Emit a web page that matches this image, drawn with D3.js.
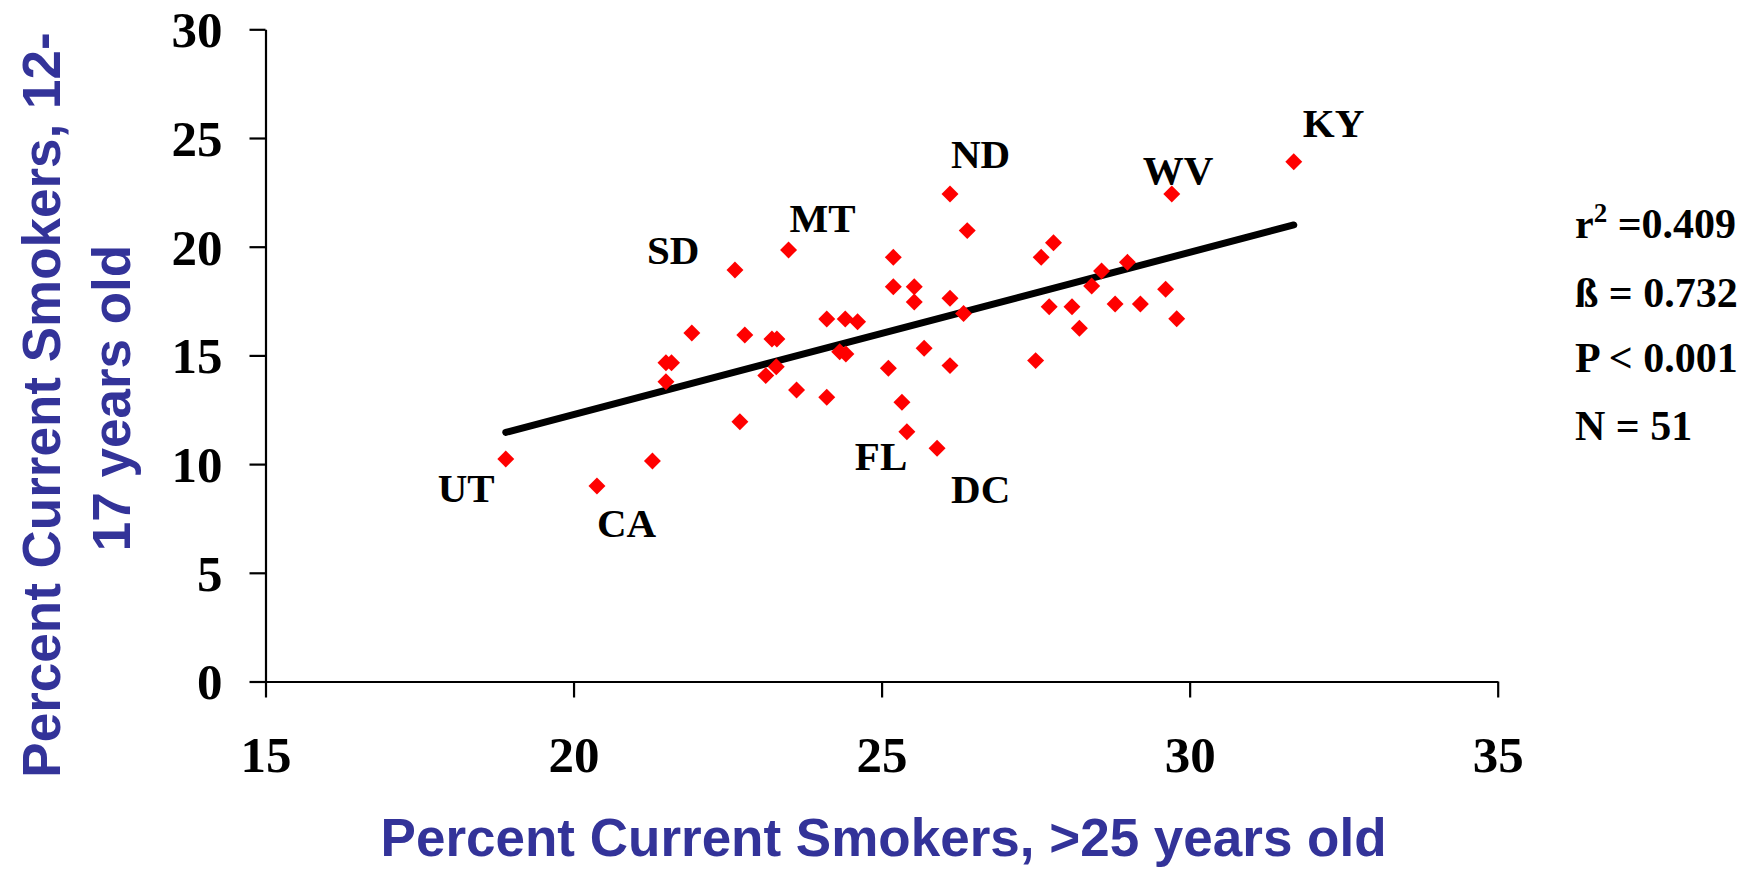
<!DOCTYPE html>
<html>
<head>
<meta charset="utf-8">
<script src="https://cdn.jsdelivr.net/npm/d3@7"></script>
<style>
  html, body { margin: 0; padding: 0; background: #ffffff; }
  svg { display: block; }
</style>
</head>
<body>
<svg id="chart" width="1758" height="869"></svg>
<script>
// ---- Data ----
// Percent current smokers, >25 years old
const adultPct = [18.90, 20.38, 21.28, 21.50, 21.50, 21.59, 21.92, 22.62, 22.78, 23.22,
                  23.30, 23.29, 23.12, 22.70, 23.62, 24.11, 23.49, 24.11, 24.41, 24.61,
                  24.32, 24.42, 25.19, 25.19, 25.53, 25.53, 25.11, 25.69, 25.33, 25.41,
                  25.90, 26.11, 26.39, 26.11, 26.33, 26.11, 27.50, 27.59, 27.79, 27.72,
                  28.09, 28.21, 28.41, 28.57, 28.79, 28.99, 29.20, 29.61, 29.79, 29.71,
                  31.69];
// Percent current smokers, 12-17 years old
const youthPct = [10.23, 8.99, 10.14, 13.79, 14.66, 14.66, 16.03, 18.93, 15.94, 15.75,
                  15.75, 14.48, 14.07, 11.95, 13.41, 13.07, 19.85, 16.67, 16.67, 16.55,
                  15.17, 15.06, 19.51, 18.16, 18.16, 17.46, 14.41, 15.33, 12.84, 11.49,
                  10.73, 22.42, 20.74, 17.63, 16.93, 14.53, 14.76, 19.51, 20.18, 17.24,
                  17.24, 16.25, 18.19, 18.88, 17.36, 19.28, 17.36, 18.04, 16.69, 22.42,
                  23.91];
// Labelled states and the index of their point
const labelNames = ["UT", "CA", "SD", "MT", "FL", "DC", "ND", "WV", "KY"];
const labelIndex = [0, 1, 7, 16, 29, 30, 31, 49, 50];
// Regression line end points
const trendX = [18.9, 31.69];
const trendY = [11.46, 21.0];
// Ticks
const xTicks = [15, 20, 25, 30, 35];
const yTicks = [0, 5, 10, 15, 20, 25, 30];
// Statistics
const statLines = ["=0.409", "ß = 0.732", "P < 0.001", "N = 51"];

// ---- Layout ----
const svg = d3.select("#chart");
const x = d3.scaleLinear().domain([15, 35]).range([265.5, 1497.7]);
const y = d3.scaleLinear().domain([0, 30]).range([681.5, 29.3]);

const serif = "'Liberation Serif', 'Times New Roman', serif";
const sans = "'Liberation Sans', Arial, sans-serif";
const titleColor = "#333399";

// axes
const xAxis = d3.axisBottom(x).tickValues(xTicks).tickSize(16).tickSizeOuter(0).tickFormat(d3.format("d"));
const yAxis = d3.axisLeft(y).tickValues(yTicks).tickSize(16).tickSizeOuter(0).tickFormat(d3.format("d"));

const gx = svg.append("g").attr("transform", `translate(0,${y(0)})`).call(xAxis);
const gy = svg.append("g").attr("transform", `translate(${x(15)},0)`).call(yAxis);

[gx, gy].forEach(g => {
  g.selectAll("path.domain").attr("stroke", "#000").attr("stroke-width", 2.2);
  g.selectAll(".tick line").attr("stroke", "#000").attr("stroke-width", 2.2);
  g.selectAll(".tick text")
    .attr("fill", "#000")
    .style("font-family", serif)
    .style("font-weight", "bold")
    .style("font-size", "51px");
});
gx.selectAll(".tick text").attr("y", 0).attr("dy", 0).attr("transform", `translate(0,${772 - y(0)})`);
gy.selectAll(".tick text").attr("x", -43).attr("dy", "0.34em");

// regression line
svg.append("path")
  .datum(trendX.map((d, i) => [d, trendY[i]]))
  .attr("d", d3.line().x(d => x(d[0])).y(d => y(d[1])))
  .attr("fill", "none")
  .attr("stroke", "#000")
  .attr("stroke-width", 7)
  .attr("stroke-linecap", "round");

// points
const pts = adultPct.map((d, i) => ({ x: d, y: youthPct[i] }));
svg.append("g").selectAll("path")
  .data(pts)
  .join("path")
  .attr("d", d3.symbol(d3.symbolSquare, 144))
  .attr("transform", d => `translate(${x(d.x)},${y(d.y)}) rotate(45)`)
  .attr("fill", "#ff0000");

// state labels (pixel offsets from their point)
const labelOffset = {
  UT: [-68, 43], CA: [0, 51], SD: [-88, -6], MT: [1, -18], FL: [-52, 38],
  DC: [14, 55], ND: [1, -26], WV: [-29, -10], KY: [9, -25]
};
svg.append("g").selectAll("text")
  .data(labelNames)
  .join("text")
  .attr("x", (d, i) => x(adultPct[labelIndex[i]]) + labelOffset[d][0])
  .attr("y", (d, i) => y(youthPct[labelIndex[i]]) + labelOffset[d][1])
  .style("font-family", serif)
  .style("font-weight", "bold")
  .style("font-size", "41px")
  .attr("fill", "#000")
  .text(d => d);

// statistics block
const statY = [238, 307, 372, 440];
const stats = svg.append("g")
  .style("font-family", serif)
  .style("font-weight", "bold")
  .style("font-size", "42px")
  .attr("fill", "#000");
const r2 = stats.append("text").attr("x", 1575).attr("y", statY[0]);
r2.append("tspan").text("r");
r2.append("tspan").attr("dy", -16).style("font-size", "27px").text("2");
r2.append("tspan").attr("dy", 16).text(" " + statLines[0]);
statLines.slice(1).forEach((s, i) => {
  stats.append("text").attr("x", 1575).attr("y", statY[i + 1]).text(s);
});

// axis titles
svg.append("text")
  .attr("x", (x(15) + x(35)) / 2 + 2)
  .attr("y", 856)
  .attr("text-anchor", "middle")
  .style("font-family", sans)
  .style("font-weight", "bold")
  .style("font-size", "53px")
  .attr("fill", titleColor)
  .text("Percent Current Smokers, >25 years old");

const yTitle = ["Percent Current Smokers, 12-", "17 years old"];
const yTitleX = [60, 130];
const yTitleC = [405, 398];
yTitle.forEach((t, i) => {
  svg.append("text")
    .attr("transform", `translate(${yTitleX[i]},${yTitleC[i]}) rotate(-90)`)
    .attr("text-anchor", "middle")
    .style("font-family", sans)
    .style("font-weight", "bold")
    .style("font-size", "53px")
    .attr("fill", titleColor)
    .text(t);
});
</script>
</body>
</html>
